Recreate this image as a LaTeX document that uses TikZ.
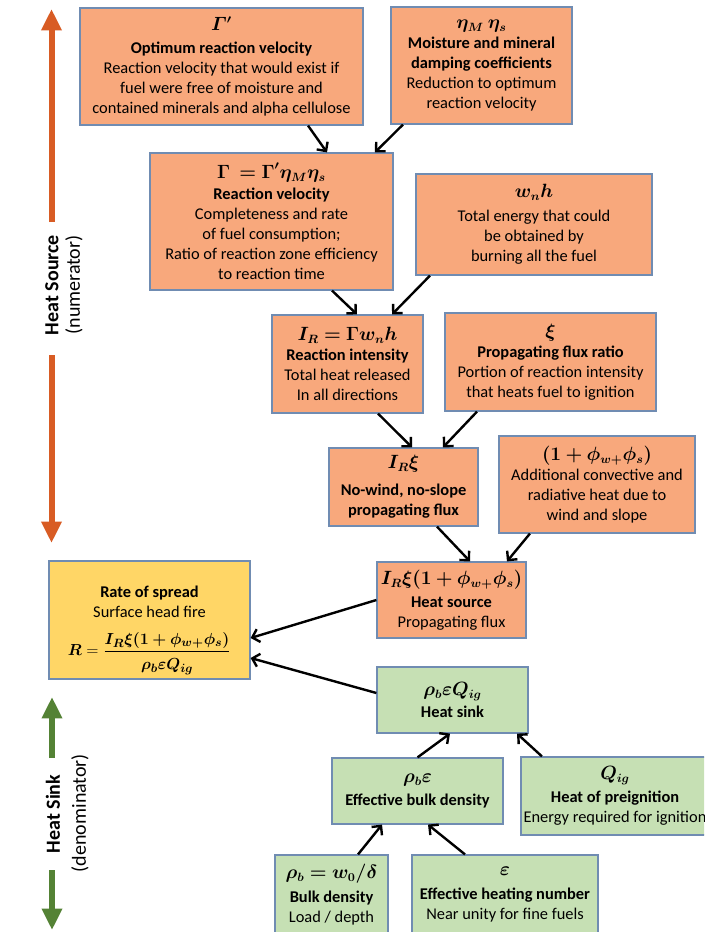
\documentclass[tikz,border=0pt]{standalone}
\usepackage{amsmath}
\usepackage{bm}
\usepackage{fontspec}
\setmainfont{Carlito}
\usetikzlibrary{arrows.meta}
\definecolor{srcfill}{RGB}{248,168,124}
\definecolor{sinkfill}{RGB}{198,224,180}
\definecolor{rosfill}{RGB}{255,214,102}
\definecolor{boxline}{RGB}{112,140,178}
\definecolor{srcarrow}{RGB}{216,92,36}
\definecolor{sinkarrow}{RGB}{84,130,53}
\newcommand\fmla[1]{{\fontsize{13.5}{15}\selectfont$\bm{#1}$}}
\begin{document}
\begin{tikzpicture}[x=0.75pt,y=-0.75pt,font=\fontsize{12.3}{15}\selectfont,
  card/.style={draw=boxline,line width=0.9pt,align=center,inner sep=2pt},
  srcbox/.style={card,fill=srcfill},
  sinkbox/.style={card,fill=sinkfill},
  link/.style={-{Straight Barb[length=5pt,width=10pt]},line width=1.8pt},
  fat/.style={line width=4.5pt,-{Triangle[length=16pt,width=14.5pt]}}]
\clip (0,0) rectangle (704,932);
% heat source side
\node[srcbox,minimum width=212.25pt,minimum height=87.75pt] (gp) at (221.5,66.5) {\fmla{\varGamma'}\\[2pt] \textbf{Optimum reaction velocity}\\ Reaction velocity that would exist if\\ fuel were free of moisture and\\ contained minerals and alpha cellulose};
\node[srcbox,minimum width=135.75pt,minimum height=87.75pt] (eta) at (481.5,65.5) {\fmla{\eta_M\ \eta_s}\\ \textbf{Moisture and mineral}\\ \textbf{damping coefficients}\\ Reduction to optimum\\ reaction velocity};
\node[srcbox,minimum width=182.25pt,minimum height=102.75pt] (gam) at (271.5,221.5) {\fmla{\Gamma\ =\Gamma'\eta_M\eta_s}\\[1pt] \textbf{Reaction velocity}\\ Completeness and rate\\ of fuel consumption;\\ Ratio of reaction zone efficiency\\ to reaction time};
\node[srcbox,minimum width=177pt,minimum height=75.75pt] (wnh) at (534,224.5) {\fmla{w_n h}\\[3pt] Total energy that could\\ be obtained by\\ burning all the fuel};
\node[srcbox,minimum width=113.25pt,minimum height=73.5pt] (ir) at (347.5,364) {\fmla{I_R = \Gamma w_n h}\\ \textbf{Reaction intensity}\\ Total heat released\\ In all directions};
\node[srcbox,minimum width=158.25pt,minimum height=73.5pt] (xi) at (550.5,362) {\fmla{\xi}\\ \textbf{Propagating flux ratio}\\ Portion of reaction intensity\\ that heats fuel to ignition};
\node[srcbox,minimum width=111.75pt,minimum height=58.5pt] (irxi) at (403.5,487) {\fmla{I_R\xi}\\[5pt] \textbf{No-wind, no-slope}\\ \textbf{propagating flux}};
\node[srcbox,minimum width=147pt,minimum height=72.75pt] (phi) at (597,484.5) {\fmla{(1+\phi_{w+}\phi_s)}\\ Additional convective and\\ radiative heat due to\\ wind and slope};
\node[srcbox,minimum width=111.75pt,minimum height=57pt] (src) at (451.5,600) {\fmla{I_R\xi(1+\phi_{w+}\phi_s)}\\[2pt] \textbf{Heat source}\\ Propagating flux};
% result
\node[card,fill=rosfill,minimum width=150.75pt,minimum height=88.5pt] (ros) at (149.5,620) {\rule{0pt}{24pt}\textbf{Rate of spread}\\ Surface head fire\\[10pt] {\fontsize{13}{15}\selectfont$\bm{R} = \dfrac{\bm{I_R\xi(1+\phi_{w+}\phi_s)}\rule[-3pt]{0pt}{3pt}}{\rule{0pt}{12pt}\bm{\rho_b\varepsilon Q_{ig}}}$}};
% heat sink side
\node[sinkbox,minimum width=113.25pt,minimum height=49.5pt] (sink) at (452.5,700) {\fmla{\rho_b\varepsilon Q_{ig}}\\[2pt] \textbf{Heat sink}};
\node[sinkbox,minimum width=128.25pt,minimum height=49.5pt] (rbe) at (417.5,791) {\fmla{\rho_b\varepsilon}\\[2pt] \textbf{Effective bulk density}};
\node[sinkbox,minimum width=138pt,minimum height=58.5pt] (qig) at (615,796) {\fmla{Q_{ig}}\\[2pt] \textbf{Heat of preignition}\\ Energy required for ignition};
\node[sinkbox,minimum width=84.75pt,minimum height=60pt] (bd) at (331.5,895) {\fmla{\rho_b = w_0/\delta}\\[3pt] \textbf{Bulk density}\\ Load / depth};
\node[sinkbox,minimum width=139.5pt,minimum height=60pt] (eps) at (505,895) {\fmla{\varepsilon}\\[3pt] \textbf{Effective heating number}\\ Near unity for fine fuels};
% connectors
\draw[link] ([xshift=64.9pt]gp.south) -- ([xshift=41.6pt]gam.north);
\draw[link] ([xshift=-58.9pt]eta.south) -- ([xshift=77.6pt]gam.north);
\draw[link] ([xshift=45.4pt]gam.south) -- ([xshift=7.1pt]ir.north);
\draw[link] ([xshift=-78pt]wnh.south) -- ([xshift=33.4pt]ir.north);
\draw[link] ([xshift=22.9pt]ir.south) -- ([xshift=6.4pt]irxi.north);
\draw[link] ([xshift=-55.1pt]xi.south) -- ([xshift=29.6pt]irxi.north);
\draw[link] ([xshift=25.1pt]irxi.south) -- ([xshift=13.9pt]src.north);
\draw[link] ([xshift=-50.3pt]phi.south) -- ([xshift=41.6pt]src.north);
\draw[link] (src.west) -- ([yshift=-13.5pt]ros.east);
\draw[link] ([yshift=5.25pt]sink.west) -- ([yshift=-28.5pt]ros.east);
\draw[link] (rbe.north) -- ([xshift=-1.9pt]sink.south);
\draw[link] ([xshift=-54.8pt]qig.north) -- ([xshift=48.4pt]sink.south);
\draw[link] ([xshift=19.9pt]bd.north) -- ([xshift=-26.6pt]rbe.south);
\draw[link] ([xshift=-30pt]eps.north) -- ([xshift=7.9pt]rbe.south);
% side arrows
\coordinate (srctop) at (51.5,9); \coordinate (srcup) at (51.5,222);
\coordinate (srcdn) at (51.5,355); \coordinate (srcbot) at (51.5,543);
\draw[fat,srcarrow] (srcup) -- (srctop);
\draw[fat,srcarrow] (srcdn) -- (srcbot);
\node[rotate=90,font=\fontsize{15}{17}\selectfont\bfseries] (srclab) at (52,285) {Heat Source};
\node[rotate=90,font=\fontsize{15}{17}\selectfont] (srcsub) at (74,285) {(numerator)};
\coordinate (sinktop) at (52,697); \coordinate (sinkup) at (52,758);
\coordinate (sinkdn) at (52,870); \coordinate (sinkbot) at (52,930);
\draw[fat,sinkarrow] (sinkup) -- (sinktop);
\draw[fat,sinkarrow] (sinkdn) -- (sinkbot);
\node[rotate=90,font=\fontsize{15}{17}\selectfont\bfseries] (sinklab) at (53,814) {Heat Sink};
\node[rotate=90,font=\fontsize{15}{17}\selectfont] (sinksub) at (80,813) {(denominator)};
\end{tikzpicture}
\end{document}
